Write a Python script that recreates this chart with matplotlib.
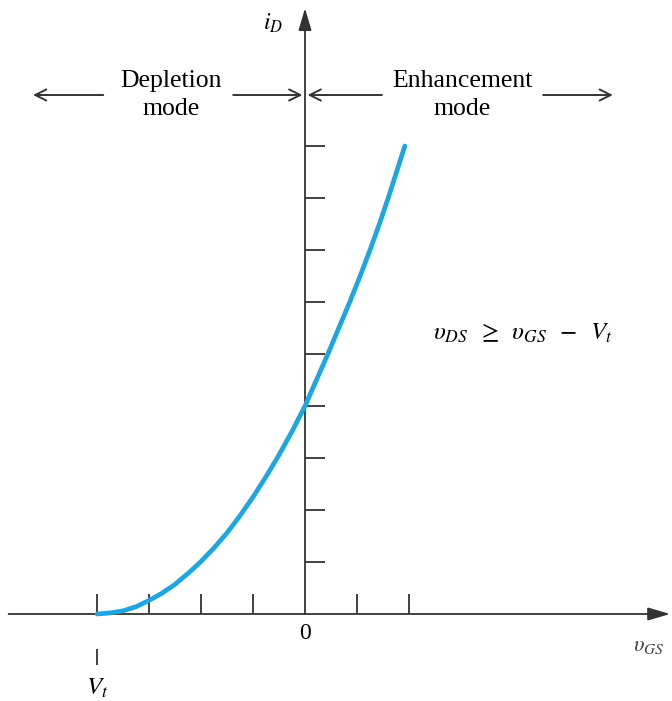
import matplotlib.pyplot as plt

# iD vs vGS transfer curve (units = tick spacings)
v_gs = [-4.0, -3.75, -3.5, -3.25, -3.0, -2.75, -2.5, -2.25, -2.0, -1.75, -1.5,
        -1.25, -1.0, -0.75, -0.5, -0.25, 0.0, 0.22, 0.44, 0.65, 0.86, 1.06,
        1.25, 1.43, 1.6, 1.76, 1.92]
i_d = [0.0, 0.02, 0.06, 0.14, 0.26, 0.4, 0.57, 0.78, 1.01, 1.27, 1.56,
       1.89, 2.25, 2.64, 3.06, 3.51, 4.0, 4.5, 5.0, 5.5, 6.0, 6.5,
       7.0, 7.5, 8.0, 8.5, 9.0]

x_ticks = [-4, -3, -2, -1, 1, 2]
y_ticks = [1, 2, 3, 4, 5, 6, 7, 8, 9]
v_t = -4

plt.rcParams["mathtext.fontset"] = "stix"
plt.rcParams["font.family"] = ["Liberation Serif", "DejaVu Serif"]

AX = "#333333"
BLUE = "#1ea6e0"

fig = plt.figure(figsize=(6.72, 7.01), dpi=100)
ax = fig.add_axes([0, 0, 1, 1])
# one data unit = 52 px, origin at pixel (305, 614)
ax.set_xlim(-305 / 52, 367 / 52)
ax.set_ylim(-87 / 52, 614 / 52)
ax.axis("off")

# axes with arrow heads
arrow_kw = dict(arrowstyle="-|>,head_length=0.75,head_width=0.22", color=AX,
                lw=1.3, shrinkA=0, shrinkB=0, mutation_scale=18)
ax.annotate("", xy=(7.02, 0), xytext=(-5.7, 0), arrowprops=arrow_kw)
ax.annotate("", xy=(0, 11.65), xytext=(0, 0), arrowprops=arrow_kw)

# ticks
tl = 20 / 52
ax.vlines(x_ticks, 0, tl, color=AX, lw=1.3)
ax.hlines(y_ticks, 0, tl, color=AX, lw=1.3)
ax.vlines(v_t, -0.68, -0.98, color=AX, lw=1.3)

# curve
ax.plot(v_gs, i_d, color=BLUE, lw=3.4, solid_capstyle="round",
        solid_joinstyle="round", zorder=3)

# labels
ax.text(0, -0.18, "0", ha="center", va="top", fontsize=17)
ax.text(v_t, -1.2, r"$\boldsymbol{V_t}$", ha="center", va="top", fontsize=18)
ax.text(6.62, -0.45, r"$\upsilon_{GS}$", ha="center", va="top", fontsize=16,
        color="#444444")
ax.text(-0.62, 11.35, r"$i_D$", ha="center", va="center", fontsize=17)
ax.text(2.46, 5.4,
        r"$\upsilon_{DS}\;\;\geq\;\;\upsilon_{GS}\;\;-\;\;\boldsymbol{V_t}$",
        ha="left", va="center", fontsize=18)

# mode annotations
ym = (614 - 95) / 52
mode_kw = dict(arrowstyle="->", color=AX, lw=1.4, shrinkA=0, shrinkB=0,
               mutation_scale=20)
ax.annotate("", xy=(-5.23, ym), xytext=(-3.88, ym), arrowprops=mode_kw)
ax.annotate("", xy=(-0.05, ym), xytext=(-1.38, ym), arrowprops=mode_kw)
ax.annotate("", xy=(0.05, ym), xytext=(1.48, ym), arrowprops=mode_kw)
ax.annotate("", xy=(5.92, ym), xytext=(4.58, ym), arrowprops=mode_kw)
ax.text(-2.58, ym, "Depletion\nmode", ha="center", va="center", fontsize=18.5,
        linespacing=1.35)
ax.text(3.03, ym, "Enhancement\nmode", ha="center", va="center",
        fontsize=18.5, linespacing=1.35)

fig.savefig("out.png", dpi=100)
